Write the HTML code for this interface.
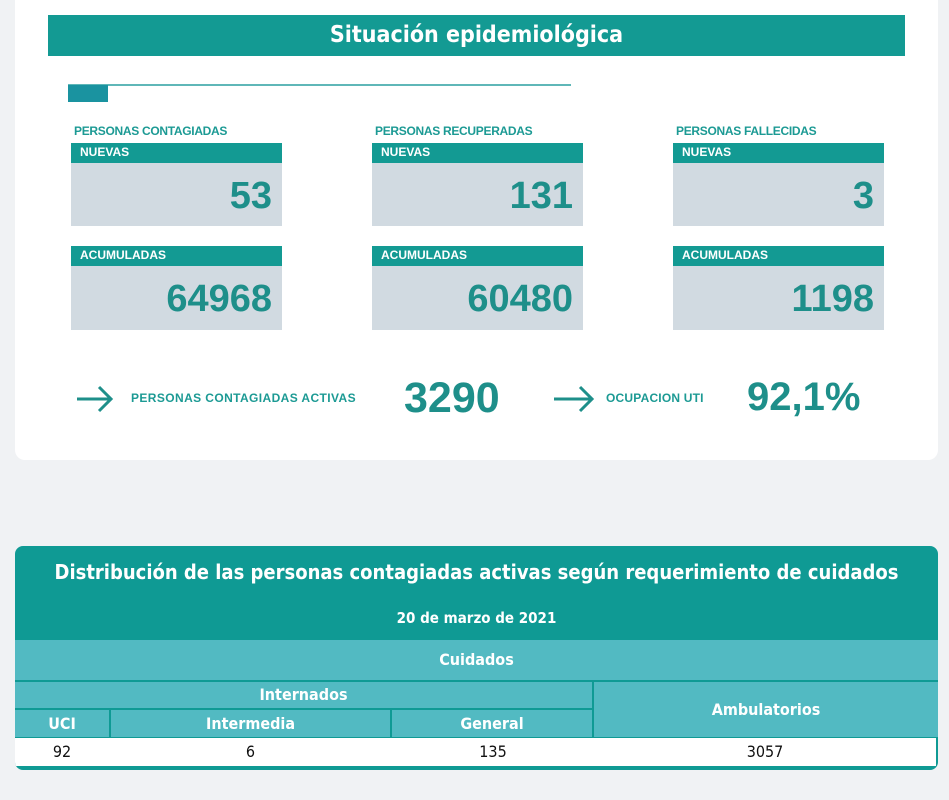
<!DOCTYPE html>
<html><head><meta charset="utf-8"><style>
body{margin:0;width:949px;height:800px;background:#f0f2f4;font-family:"Liberation Sans",sans-serif;position:relative;overflow:hidden}
.a{position:absolute}
.card{left:15px;top:0;width:923px;height:460px;background:#fff;border-radius:0 0 10px 10px}
.hdr{left:48px;top:15px;width:857px;height:41px;background:#139a93;color:#fff;font-size:23px;font-weight:bold;text-align:center;line-height:41px;font-family:"DejaVu Sans Condensed","Liberation Sans Narrow",sans-serif}
.lbl{font-size:12px;font-weight:bold;color:#1c9a94;letter-spacing:-0.3px}
.th{background:#139a93;color:#fff;font-size:12px;font-weight:bold;padding-left:9px;box-sizing:border-box;line-height:18px}
.box{background:#d1dae1;color:#1e8f8a;font-weight:bold;font-size:38px;text-align:right;box-sizing:border-box;padding-right:10px}
.big{color:#1e8f8a;font-weight:bold;font-size:42px}
.tb{left:15px;top:546px;width:923px;height:224px;border-radius:8px;overflow:hidden;background:#0f9a94;font-family:"Liberation Sans Narrow","DejaVu Sans Condensed",sans-serif}
.c{position:absolute;background:#52bac2;color:#fff;font-weight:bold;font-size:16px;text-align:center;box-sizing:border-box}
.d{position:absolute;background:#fff;color:#111;font-size:16px;text-align:center;top:192px;height:28px;line-height:28px}
</style></head><body>
<div class="a card"></div>
<div class="a hdr">Situación epidemiológica</div>
<div class="a" style="left:68px;top:84px;width:503px;height:2px;background:#5fb7b8"></div>
<div class="a" style="left:68px;top:85px;width:40px;height:17px;background:#1a93a0"></div>

<div class="a lbl" style="left:74px;top:124px">PERSONAS CONTAGIADAS</div>
<div class="a lbl" style="left:375px;top:124px">PERSONAS RECUPERADAS</div>
<div class="a lbl" style="left:676px;top:124px">PERSONAS FALLECIDAS</div>

<div class="a th" style="left:71px;top:143px;width:211px;height:20px">NUEVAS</div>
<div class="a box" style="left:71px;top:163px;width:211px;height:63px;line-height:66px">53</div>
<div class="a th" style="left:372px;top:143px;width:211px;height:20px">NUEVAS</div>
<div class="a box" style="left:372px;top:163px;width:211px;height:63px;line-height:66px">131</div>
<div class="a th" style="left:673px;top:143px;width:211px;height:20px">NUEVAS</div>
<div class="a box" style="left:673px;top:163px;width:211px;height:63px;line-height:66px">3</div>

<div class="a th" style="left:71px;top:246px;width:211px;height:20px">ACUMULADAS</div>
<div class="a box" style="left:71px;top:266px;width:211px;height:64px;line-height:66px">64968</div>
<div class="a th" style="left:372px;top:246px;width:211px;height:20px">ACUMULADAS</div>
<div class="a box" style="left:372px;top:266px;width:211px;height:64px;line-height:66px">60480</div>
<div class="a th" style="left:673px;top:246px;width:211px;height:20px">ACUMULADAS</div>
<div class="a box" style="left:673px;top:266px;width:211px;height:64px;line-height:66px">1198</div>

<svg class="a" style="left:75px;top:384px" width="40" height="30"><path d="M2 15H36M24 3L36 15L24 27" stroke="#1e8f8a" stroke-width="3" fill="none"/></svg>
<div class="a lbl" style="left:131px;top:391px;font-size:12px;letter-spacing:0.4px">PERSONAS CONTAGIADAS ACTIVAS</div>
<div class="a big" style="left:404px;top:374px;font-size:43px">3290</div>
<svg class="a" style="left:552px;top:384px" width="44" height="30"><path d="M2 15H40M28 3L40 15L28 27" stroke="#1e8f8a" stroke-width="3" fill="none"/></svg>
<div class="a lbl" style="left:606px;top:391px;font-size:12px;letter-spacing:0.2px">OCUPACION UTI</div>
<div class="a big" style="left:747px;top:375px;font-size:40px">92,1%</div>

<div class="a tb">
 <div style="position:absolute;left:0;top:14px;width:923px;text-align:center;color:#fff;font-weight:bold;font-size:20px">Distribución de las personas contagiadas activas según requerimiento de cuidados</div>
 <div style="position:absolute;left:0;top:63px;width:923px;text-align:center;color:#fff;font-weight:bold;font-size:15px">20 de marzo de 2021</div>
 <div class="c" style="left:0;top:94px;width:923px;height:40px;line-height:40px">Cuidados</div>
 <div class="c" style="left:0;top:136px;width:577px;height:26px;line-height:26px">Internados</div>
 <div class="c" style="left:579px;top:136px;width:344px;height:55px;line-height:55px">Ambulatorios</div>
 <div class="c" style="left:0;top:164px;width:94px;height:27px;line-height:27px">UCI</div>
 <div class="c" style="left:96px;top:164px;width:279px;height:27px;line-height:27px">Intermedia</div>
 <div class="c" style="left:377px;top:164px;width:200px;height:27px;line-height:27px">General</div>
 <div class="d" style="left:0;width:94px">92</div>
 <div class="d" style="left:94px;width:283px">6</div>
 <div class="d" style="left:377px;width:202px">135</div>
 <div class="d" style="left:579px;width:342px">3057</div>
</div>
</body></html>
